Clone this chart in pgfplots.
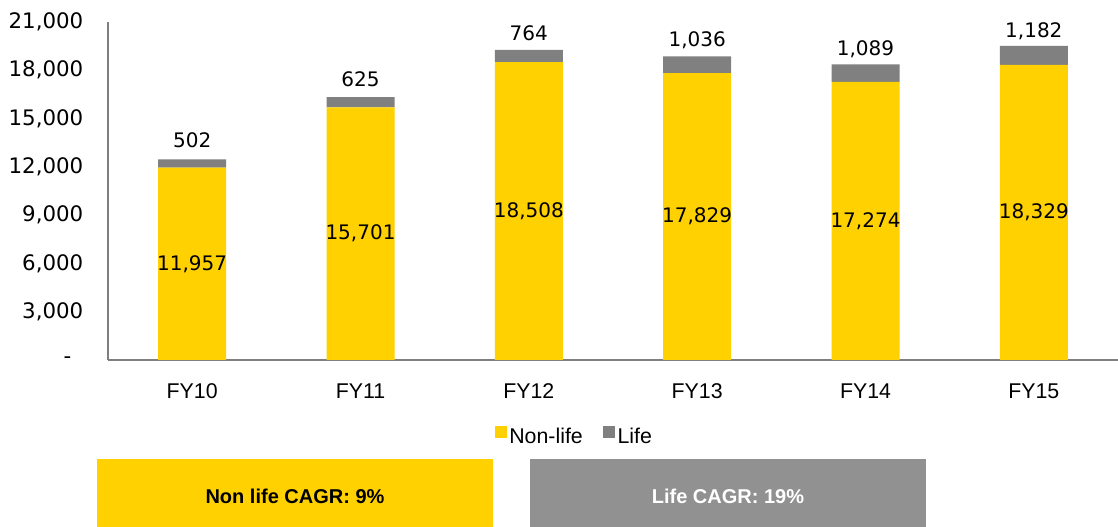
\documentclass[border=0pt]{standalone}
\usepackage{pgfplots}
\pgfplotsset{compat=1.18}
\usepackage{pgfplotstable}
\usepackage{fontspec}
\setmainfont{DejaVu Sans}
\newfontfamily\arialf{Liberation Sans}
\definecolor{eyyellow}{HTML}{FFD100}
\definecolor{eygray}{HTML}{808080}
\definecolor{boxgray}{HTML}{919191}
\definecolor{axgray}{HTML}{7F7F7F}
\pgfplotstableread{
x nonlife life
0 11957 502
1 15701 625
2 18508 764
3 17829 1036
4 17274 1089
5 18329 1182
}\datatable
\pgfplotsset{commonax/.style={
  at={(81pt,125.25pt)}, anchor=south west,
  scale only axis, width=757.5pt, height=253.5pt,
  xmin=-0.5, xmax=5.5, ymin=0, ymax=21000}}
\begin{document}
\begin{tikzpicture}
\path[use as bounding box] (0,0) rectangle (838.5pt,395.25pt);
\begin{axis}[
  commonax,
  ybar stacked, bar width=51pt,
  scaled y ticks=false,
  axis x line*=bottom, axis y line*=left,
  axis line style={axgray, line width=1.1pt},
  major tick length=0pt,
  xtick={0,...,5}, xticklabels={FY10,FY11,FY12,FY13,FY14,FY15},
  ytick={0,3000,...,21000},
  yticklabels={-\hspace{9pt}\mbox{},{3,000},{6,000},{9,000},{12,000},{15,000},{18,000},{21,000}},
  yticklabel style={font=\fontsize{16}{19}\selectfont, xshift=-15pt},
  xticklabel style={font=\arialf\fontsize{16}{19}\selectfont, yshift=-14pt},
  legend style={at={(0.462,-0.228)}, anchor=center, draw=none, legend columns=2,
    font=\arialf\fontsize{16}{19}\selectfont,
    /tikz/every even column/.append style={column sep=13pt}},
  legend image code/.code={\fill[#1] (0pt,-1pt) rectangle (9pt,8pt);},
]
\addplot[fill=eyyellow, draw=none]
  table[x=x, y=nonlife] {\datatable};
\addlegendentry{Non-life}
\addplot[fill=eygray, draw=none,
  point meta=explicit,
  nodes near coords={\pgfmathprintnumber[fixed,precision=0,1000 sep={,},assume math mode=true]{\pgfplotspointmeta}},
  nodes near coords style={font=\fontsize{15}{18}\selectfont, text=black, anchor=south, yshift=8pt}]
  table[x=x, y=life, meta=life] {\datatable};
\addlegendentry{Life}
\end{axis}
\begin{axis}[commonax, hide axis]
\addplot[draw=none, mark=none,
  point meta=explicit,
  nodes near coords={\pgfmathprintnumber[fixed,precision=0,1000 sep={,},assume math mode=true]{\pgfplotspointmeta}},
  nodes near coords style={font=\fontsize{15}{18}\selectfont, text=black, anchor=center}]
  table[x=x, y expr=\thisrow{nonlife}/2, meta=nonlife] {\datatable};
\end{axis}
\fill[eyyellow] (72.75pt,0) rectangle (369.75pt,51pt);
\node[anchor=base, inner sep=0pt, font=\arialf\bfseries\fontsize{15}{18}\selectfont] at (221.25pt,17.25pt) {Non life CAGR: 9\%};
\fill[boxgray] (397.5pt,0) rectangle (694.5pt,51pt);
\node[anchor=base, inner sep=0pt, text=white, font=\arialf\bfseries\fontsize{15}{18}\selectfont] at (546pt,17.25pt) {Life CAGR: 19\%};
\end{tikzpicture}
\end{document}
